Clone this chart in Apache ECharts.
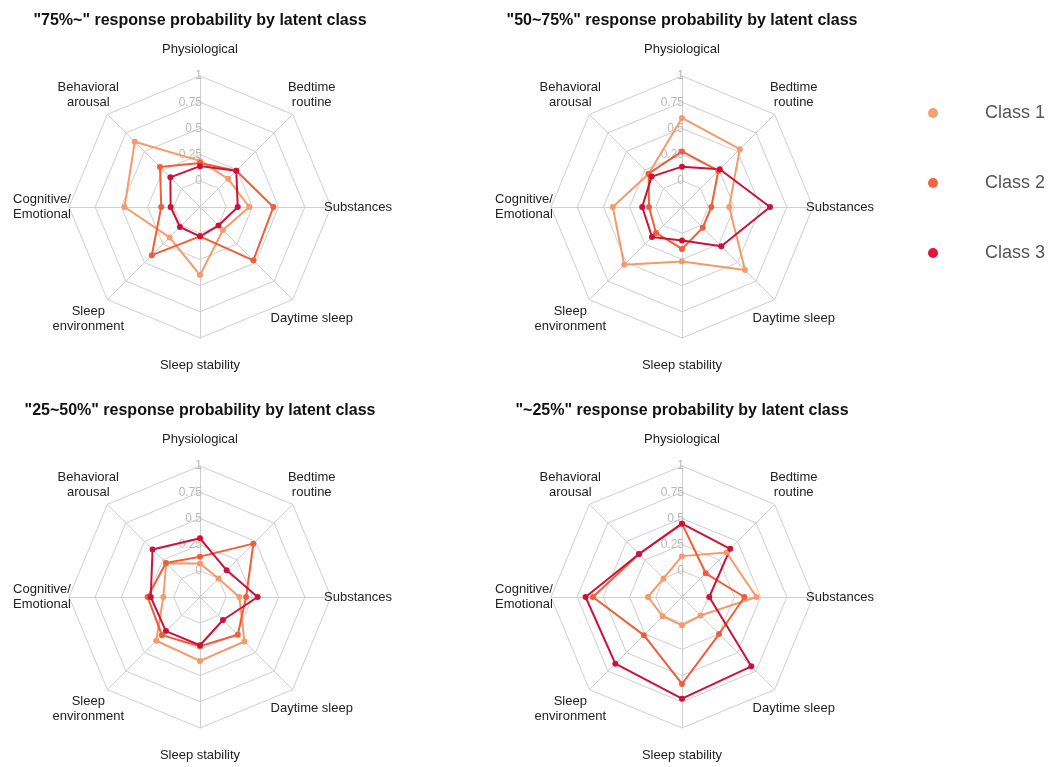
<!DOCTYPE html>
<html>
<head>
<meta charset="utf-8">
<title>Response probability by latent class</title>
<script src="https://cdn.jsdelivr.net/npm/echarts@6/dist/echarts.min.js"></script>
<style>
  html, body { margin: 0; padding: 0; background: #fff; }
  #chart { width: 1054px; height: 767px; }
</style>
</head>
<body>
<div id="chart"></div>
<script>
// Domains, listed clockwise from the top of each radar
const categories = [
  'Physiological', 'Bedtime\nroutine', 'Substances', 'Daytime sleep',
  'Sleep stability', 'Sleep\nenvironment', 'Cognitive/\nEmotional', 'Behavioral\narousal'
];
const classNames = ['Class 1', 'Class 2', 'Class 3'];
const classColors = ['#f49a6c', '#ef5e3b', '#cc1238'];
const legendColors = ['#f5a072', '#f2673f', '#e2163c'];

const panelTitles = [
  '"75%~" response probability by latent class',
  '"50~75%" response probability by latent class',
  '"25~50%" response probability by latent class',
  '"~25%" response probability by latent class'
];

// Response probabilities per panel, same order as categories
const p75up_class1 = [0.19, 0.13, 0.22, 0.06, 0.40, 0.16, 0.47, 0.63];
const p75up_class2 = [0.17, 0.24, 0.45, 0.47, 0.03, 0.40, 0.12, 0.29];
const p75up_class3 = [0.14, 0.24, 0.11, 0.00, 0.03, 0.02, 0.03, 0.15];

const p50to75_class1 = [0.60, 0.53, 0.20, 0.60, 0.27, 0.53, 0.41, 0.20];
const p50to75_class2 = [0.28, 0.24, 0.03, 0.03, 0.15, 0.10, 0.065, 0.20];
const p50to75_class3 = [0.135, 0.26, 0.59, 0.28, 0.07, 0.155, 0.13, 0.16];

const p25to50_class1 = [0.07, 0.00, 0.125, 0.35, 0.36, 0.34, 0.10, 0.205];
const p25to50_class2 = [0.135, 0.47, 0.19, 0.26, 0.22, 0.265, 0.25, 0.21];
const p25to50_class3 = [0.31, 0.11, 0.30, 0.06, 0.21, 0.21, 0.22, 0.39];

const p25down_class1 = [0.14, 0.35, 0.46, 0.00, 0.02, 0.01, 0.075, 0.00];
const p25down_class2 = [0.45, 0.07, 0.345, 0.25, 0.58, 0.265, 0.60, 0.33];
const p25down_class3 = [0.45, 0.40, 0.01, 0.685, 0.72, 0.65, 0.67, 0.33];

const tickLabels = ['0', '0.25', '0.5', '0.75', '1'];
const scaleMin = -0.25;
const scaleMax = 1;

const panelData = [
  [p75up_class1, p75up_class2, p75up_class3],
  [p50to75_class1, p50to75_class2, p50to75_class3],
  [p25to50_class1, p25to50_class2, p25to50_class3],
  [p25down_class1, p25down_class2, p25down_class3]
];

// Panel placement
const panelCenters = [[200, 207], [682, 207], [200, 597], [682, 597]];
const panelRadius = 131;

// ECharts lays indicators out counter-clockwise; reorder so they read clockwise
const ccwOrder = [0, 7, 6, 5, 4, 3, 2, 1];
const reorder = arr => ccwOrder.map(i => arr[i]);

const FONT = '"Liberation Sans", Arial, Helvetica, sans-serif';

function makeIndicators() {
  return reorder(categories).map((name, i) => {
    const ind = { name: name, min: scaleMin, max: scaleMax };
    if (i === 0) {
      // value labels only along the top spoke
      ind.axisLabel = {
        show: true,
        color: '#b8b8b8',
        fontSize: 12,
        fontFamily: FONT,
        margin: -2,
        showMinLabel: true,
        showMaxLabel: true,
        formatter: v => {
          const idx = Math.round(v / 0.25);
          return v < 0 ? '' : (tickLabels[idx] || '');
        }
      };
    }
    return ind;
  });
}

const radars = panelCenters.map(c => ({
  center: c,
  radius: panelRadius,
  startAngle: 90,
  shape: 'polygon',
  splitNumber: 5,
  indicator: makeIndicators(),
  axisNameGap: 27,
  axisName: {
    color: '#222',
    fontSize: 13,
    fontFamily: FONT,
    lineHeight: 15,
    align: 'center',
    verticalAlign: 'middle'
  },
  axisLine: { lineStyle: { color: '#cfcfcf', width: 1 } },
  splitLine: { lineStyle: { color: '#cfcfcf', width: 1 } },
  splitArea: { show: false },
  axisLabel: { show: false },
  axisTick: { show: false }
}));

const titles = panelTitles.map((t, i) => ({
  text: t,
  left: panelCenters[i][0],
  top: panelCenters[i][1] - 194,
  textAlign: 'center',
  padding: 0,
  textStyle: { fontSize: 16, fontWeight: 'bold', color: '#111', fontFamily: FONT }
}));

const series = panelData.map((classes, p) => ({
  type: 'radar',
  radarIndex: p,
  symbol: 'circle',
  symbolSize: 6,
  data: classes.map((vals, k) => ({
    name: classNames[k],
    value: reorder(vals),
    itemStyle: { color: classColors[k] },
    lineStyle: { color: classColors[k], width: 2 }
  }))
}));

const chart = echarts.init(document.getElementById('chart'), null, { renderer: 'canvas' });
chart.setOption({
  animation: false,
  backgroundColor: '#fff',
  title: titles,
  legend: {
    orient: 'vertical',
    left: 923,
    top: 98,
    itemWidth: 10,
    itemHeight: 10,
    itemGap: 50,
    icon: 'circle',
    selectedMode: false,
    data: classNames.map((n, k) => ({ name: n, itemStyle: { color: legendColors[k] } })),
    textStyle: {
      color: '#555',
      fontSize: 18,
      fontFamily: FONT,
      lineHeight: 20,
      padding: [0, 0, 0, 42]
    }
  },
  radar: radars,
  series: series
});
</script>
</body>
</html>
